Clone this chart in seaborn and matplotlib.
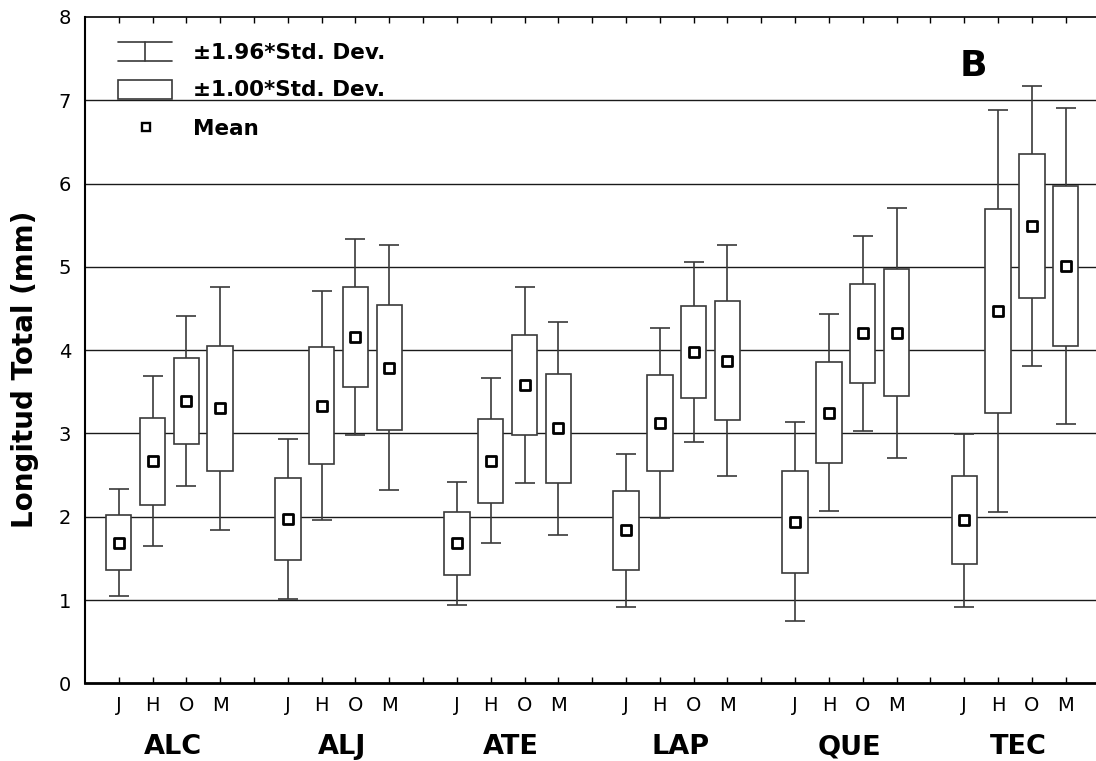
import matplotlib
matplotlib.use("Agg")
import matplotlib.pyplot as plt
from matplotlib.lines import Line2D
from matplotlib.patches import Rectangle
import numpy as np
import pandas as pd
import seaborn as sns

# Sites and sampling seasons
sites = ["ALC", "ALJ", "ATE", "LAP", "QUE", "TEC"]
seasons = ["J", "H", "O", "M"]

# Mean total length (mm) per site, one list per season
mean_J = [1.69, 1.975, 1.68, 1.835, 1.94, 1.96]
mean_H = [2.665, 3.335, 2.67, 3.125, 3.25, 4.47]
mean_O = [3.39, 4.155, 3.58, 3.975, 4.20, 5.49]
mean_M = [3.30, 3.79, 3.06, 3.875, 4.21, 5.01]

# Standard deviation per site, one list per season
sd_J = [0.33, 0.49, 0.375, 0.47, 0.61, 0.53]
sd_H = [0.52, 0.70, 0.505, 0.58, 0.605, 1.23]
sd_O = [0.52, 0.60, 0.60, 0.55, 0.595, 0.86]
sd_M = [0.745, 0.75, 0.65, 0.71, 0.765, 0.965]

y_ticks = [0, 1, 2, 3, 4, 5, 6, 7, 8]

means = {"J": mean_J, "H": mean_H, "O": mean_O, "M": mean_M}
sds = {"J": sd_J, "H": sd_H, "O": sd_O, "M": sd_M}

rows = []
for g, site in enumerate(sites):
    for s, season in enumerate(seasons):
        rows.append({"site": site, "season": season,
                     "pos": 1 + 5 * g + s,
                     "mean": means[season][g], "sd": sds[season][g]})
df = pd.DataFrame(rows)

sns.set_theme(style="ticks")
plt.rcParams["font.family"] = ["DejaVu Sans"]
plt.rcParams["text.color"] = "black"
plt.rcParams["axes.labelcolor"] = "black"
plt.rcParams["xtick.color"] = "black"
plt.rcParams["ytick.color"] = "black"

W, H = 1096, 761
fig = plt.figure(figsize=(W / 100, H / 100), dpi=100)
left_px, top_px, bottom_px, slot_px = 84.9, 17.0, 683.3, 33.82
ax = fig.add_axes([left_px / W, 1 - bottom_px / H,
                   30 * slot_px / W, (bottom_px - top_px) / H])
ax.set_xlim(0, 30)
ax.set_ylim(0, 8)

edge = "#3a3a3a"

# horizontal grid
for yv in y_ticks[1:-1]:
    ax.axhline(yv, color="#1a1a1a", lw=1.0, zorder=0.5)

# +-1.96 SD whiskers
ax.errorbar(df["pos"], df["mean"], yerr=1.96 * df["sd"], fmt="none",
            ecolor=edge, elinewidth=1.2, capsize=7.5, capthick=1.2, zorder=2)

# +-1 SD boxes
ax.bar(df["pos"], 2 * df["sd"], bottom=df["mean"] - df["sd"], width=0.75,
       color="white", edgecolor=edge, linewidth=1.2, zorder=3)

# means
sns.scatterplot(data=df, x="pos", y="mean", marker="s", s=46,
                facecolor="white", edgecolor="black", linewidth=2.0,
                zorder=4, ax=ax, legend=False)

# axes styling
ax.set_xlabel("")
ax.set_ylabel("")
ax.set_yticks(y_ticks)
ax.set_yticklabels([str(v) for v in y_ticks], fontsize=14, color="black")
ax.tick_params(axis="y", length=0, pad=10)

ax.set_xticks(df["pos"])
ax.set_xticklabels(df["season"], fontsize=14, color="black")
gap_pos = [5 * g for g in range(1, 6)]
ax.set_xticks(gap_pos, minor=True)
ax.tick_params(axis="x", which="both", direction="in", length=4, width=1.0,
               color="black", top=True, bottom=True, pad=9)

for side, lw in [("left", 1.5), ("bottom", 2.0), ("top", 1.2)]:
    ax.spines[side].set_linewidth(lw)
    ax.spines[side].set_color("black")
ax.spines["right"].set_visible(False)

# site names below the season letters
for g, site in enumerate(sites):
    ax.text(2.6 + 5 * g, -(747 - bottom_px) / (bottom_px - top_px), site,
            transform=ax.get_xaxis_transform(), ha="center", va="center",
            fontsize=19.5, fontweight="bold", color="black")

# y axis title
fig.text(25 / W, 1 - 369 / H, "Longitud Total (mm)", rotation=90,
         ha="center", va="center", fontsize=20, fontweight="bold", color="black")

# panel letter
fig.text(973 / W, 1 - 66 / H, "B", ha="center", va="center",
         fontsize=26, fontweight="bold", color="black")

# key
def fx(px):
    return px / W

def fy(py):
    return 1 - py / H

key_lw = 1.2
fig.add_artist(Line2D([fx(118), fx(172)], [fy(42.3), fy(42.3)], color=edge, lw=key_lw))
fig.add_artist(Line2D([fx(118), fx(172)], [fy(61.3), fy(61.3)], color=edge, lw=key_lw))
fig.add_artist(Line2D([fx(145), fx(145)], [fy(42.3), fy(61.3)], color=edge, lw=key_lw))
fig.add_artist(Rectangle((fx(118), fy(99)), fx(172) - fx(118), fy(80) - fy(99),
                         transform=fig.transFigure, facecolor="white",
                         edgecolor=edge, lw=key_lw, zorder=5))
fig.add_artist(Line2D([fx(145.5)], [fy(126.7)], marker="s", markersize=5.5,
                      markerfacecolor="white", markeredgecolor="black",
                      markeredgewidth=1.7, linestyle="none"))
for ty, label in [(53, "\u00b11.96*Std. Dev."), (90, "\u00b11.00*Std. Dev."), (129, "Mean")]:
    fig.text(fx(193), fy(ty), label, ha="left", va="center",
             fontsize=15.5, fontweight="bold", color="black")

fig.savefig("out.png", dpi=100)
